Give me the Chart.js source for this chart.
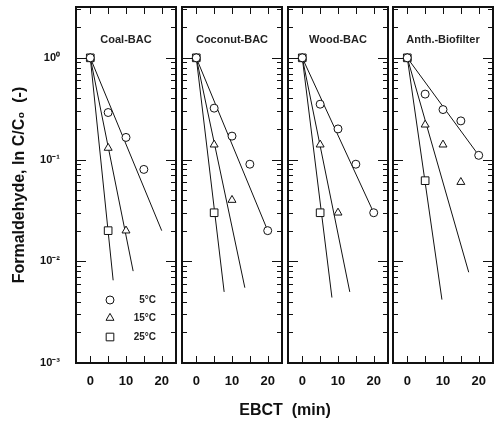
<!DOCTYPE html>
<html><head><meta charset="utf-8">
<script src="https://cdn.jsdelivr.net/npm/chart.js@4/dist/chart.umd.min.js"></script>
<style>
html,body{margin:0;padding:0;background:#fff;}
#wrap{position:relative;width:495px;height:423px;overflow:hidden;}
canvas{position:absolute;left:0;top:0;}
#xtitle{position:absolute;left:195px;width:180px;top:400px;text-align:center;font:bold 16px 'Liberation Sans',Arial,sans-serif;color:#111;white-space:pre;line-height:20px;}
</style></head><body>
<div id="wrap">
<canvas id="c0" width="495" height="423"></canvas>
<canvas id="c1" width="495" height="423"></canvas>
<canvas id="c2" width="495" height="423"></canvas>
<canvas id="c3" width="495" height="423"></canvas>
<div id="xtitle">EBCT  (min)</div>
</div>
<script>
// ---- data (EBCT in min, C/C0) ----
const panelNames = ['Coal-BAC', 'Coconut-BAC', 'Wood-BAC', 'Anth.-Biofilter'];
const tempLabels = ['5°C', '15°C', '25°C'];
const yTickValues = [0.001, 0.01, 0.1, 1];
const yTickLabels = ['10⁻³', '10⁻²', '10⁻¹', '10⁰'];
const xTickValues = [0, 10, 20];
const xMinorTickValues = [0, 5, 10, 15, 20];
const yTitle = 'Formaldehyde, ln C/C₀  (-)';

// measured points
const coal_5C  = [[0,1],[5,0.29],[10,0.165],[15,0.08]];
const coal_15C = [[0,1],[5,0.13],[10,0.02]];
const coal_25C = [[0,1],[5,0.02]];
const coconut_5C  = [[0,1],[5,0.32],[10,0.17],[15,0.09],[20,0.02]];
const coconut_15C = [[0,1],[5,0.14],[10,0.04]];
const coconut_25C = [[0,1],[5,0.03]];
const wood_5C  = [[0,1],[5,0.35],[10,0.2],[15,0.09],[20,0.03]];
const wood_15C = [[0,1],[5,0.14],[10,0.03]];
const wood_25C = [[0,1],[5,0.03]];
const anth_5C  = [[0,1],[5,0.44],[10,0.31],[15,0.24],[20,0.11]];
const anth_15C = [[0,1],[5,0.22],[10,0.14],[15,0.06]];
const anth_25C = [[0,1],[5,0.062]];

// first-order fit lines (start / end)
const coal_5C_fit  = [[0,1],[20,0.02]];
const coal_15C_fit = [[0,1],[12,0.008]];
const coal_25C_fit = [[0,1],[6.4,0.0065]];
const coconut_5C_fit  = [[0,1],[20,0.02]];
const coconut_15C_fit = [[0,1],[13.6,0.0055]];
const coconut_25C_fit = [[0,1],[7.8,0.005]];
const wood_5C_fit  = [[0,1],[20,0.03]];
const wood_15C_fit = [[0,1],[13.3,0.005]];
const wood_25C_fit = [[0,1],[8.3,0.0044]];
const anth_5C_fit  = [[0,1],[20,0.11]];
const anth_15C_fit = [[0,1],[17.2,0.0078]];
const anth_25C_fit = [[0,1],[9.7,0.0042]];

const panelPoints = [
  [coal_5C, coal_15C, coal_25C],
  [coconut_5C, coconut_15C, coconut_25C],
  [wood_5C, wood_15C, wood_25C],
  [anth_5C, anth_15C, anth_25C]
];
const panelFits = [
  [coal_5C_fit, coal_15C_fit, coal_25C_fit],
  [coconut_5C_fit, coconut_15C_fit, coconut_25C_fit],
  [wood_5C_fit, wood_15C_fit, wood_25C_fit],
  [anth_5C_fit, anth_15C_fit, anth_25C_fit]
];

// ---- styling / layout ----
const FONT = "'Liberation Sans', Arial, sans-serif";
const INK = '#111';
const markerStyles = ['circle', 'triangle', 'rect'];
const markerRadius = [4, 4.6, 5.4];
const panelLefts = [76, 182, 288, 393];
const PW = 100, TOP = 7, BOTTOM = 363, CW = 495, CH = 423;

const toXY = arr => arr.map(p => ({x: p[0], y: p[1]}));

const framePlugin = {
  id: 'frame',
  afterDatasetsDraw(chart, args, opts) {
    const {ctx, chartArea: a, scales: {x, y}} = chart;
    ctx.save();
    ctx.strokeStyle = INK;
    ctx.lineWidth = 1;
    const seg = (x1, y1, x2, y2) => { ctx.beginPath(); ctx.moveTo(x1, y1); ctx.lineTo(x2, y2); ctx.stroke(); };
    // y ticks (log decades + minors)
    for (let e = -3; e <= 0; e++) {
      for (let m = 1; m <= 9; m++) {
        const v = m * Math.pow(10, e);
        if (v > y.max) break;
        const py = Math.round(y.getPixelForValue(v)) + 0.5;
        const len = m === 1 ? 10 : 5;
        seg(a.left, py, a.left + len, py);
        seg(a.right - len, py, a.right, py);
      }
    }
    // x ticks top & bottom
    xMinorTickValues.forEach(v => {
      const px = Math.round(x.getPixelForValue(v)) + 0.5;
      seg(px, a.bottom, px, a.bottom - 7);
      seg(px, a.top, px, a.top + 7);
    });
    // frame
    ctx.lineWidth = 2;
    ctx.strokeRect(a.left, a.top, a.right - a.left, a.bottom - a.top);
    // panel title
    ctx.fillStyle = '#222';
    ctx.font = 'bold 11px ' + FONT;
    ctx.textAlign = 'center';
    ctx.textBaseline = 'middle';
    ctx.fillText(opts.title, (a.left + a.right) / 2, a.top + 33);
    // legend
    if (opts.legend) {
      const rowsY = [a.bottom - 63, a.bottom - 45, a.bottom - 26];
      ctx.lineWidth = 1;
      ctx.textAlign = 'right';
      ctx.font = 'bold 10px ' + FONT;
      tempLabels.forEach((lab, i) => {
        ctx.strokeStyle = INK; ctx.fillStyle = '#fff';
        Chart.helpers.drawPoint(ctx, {pointStyle: markerStyles[i], radius: markerRadius[i], rotation: 0, borderWidth: 1}, a.left + 34, rowsY[i]);
        ctx.fillStyle = '#222';
        ctx.fillText(lab, a.left + 80, rowsY[i]);
      });
    }
    ctx.restore();
  }
};

function makeChart(idx) {
  const first = idx === 0;
  const L = panelLefts[idx];
  const datasets = [];
  panelPoints[idx].forEach((pts, i) => {
    datasets.push({
      label: tempLabels[i], data: toXY(pts), showLine: false, order: 0,
      pointStyle: markerStyles[i], pointRadius: markerRadius[i],
      pointBackgroundColor: '#fff', pointBorderColor: INK, pointBorderWidth: 1
    });
  });
  panelFits[idx].forEach((pts, i) => {
    datasets.push({
      label: tempLabels[i] + ' fit', data: toXY(pts), showLine: true, order: 1,
      pointRadius: 0, borderColor: INK, borderWidth: 1, fill: false
    });
  });
  return new Chart(document.getElementById('c' + idx), {
    type: 'scatter',
    data: {datasets},
    options: {
      responsive: false, animation: false, events: [],
      layout: {autoPadding: false, padding: {left: first ? 0 : L, right: CW - (L + PW), top: TOP, bottom: 0}},
      plugins: {
        legend: {display: false}, tooltip: {enabled: false},
        frame: {title: panelNames[idx], legend: first}
      },
      scales: {
        x: {
          type: 'linear', min: -4, max: 24,
          grid: {display: false, drawTicks: false}, border: {display: false},
          afterBuildTicks: s => { s.ticks = xTickValues.map(v => ({value: v})); },
          afterFit: s => { s.height = CH - BOTTOM; s.paddingLeft = 0; s.paddingRight = 0; },
          ticks: {font: {family: FONT, weight: 'bold', size: 13}, color: INK, padding: 11, maxRotation: 0, autoSkip: false,
                  callback: v => String(v)}
        },
        y: {
          type: 'logarithmic', min: 0.001, max: 3.16,
          grid: {display: false, drawTicks: false}, border: {display: false},
          afterBuildTicks: s => { s.ticks = yTickValues.map(v => ({value: v})); },
          afterFit: s => { s.width = first ? L : 0; s.paddingTop = 0; s.paddingBottom = 0; },
          ticks: {display: first, font: {family: FONT, weight: 'bold', size: 11}, color: INK, padding: 16, autoSkip: false,
                  callback: (v, i) => yTickLabels[yTickValues.indexOf(v)] ?? yTickLabels[i]},
          title: {display: first, text: yTitle, font: {family: FONT, weight: 'bold', size: 16}, color: INK, padding: {top: 10, bottom: 0}}
        }
      }
    },
    plugins: [framePlugin]
  });
}
[0, 1, 2, 3].forEach(makeChart);
</script>
</body></html>
